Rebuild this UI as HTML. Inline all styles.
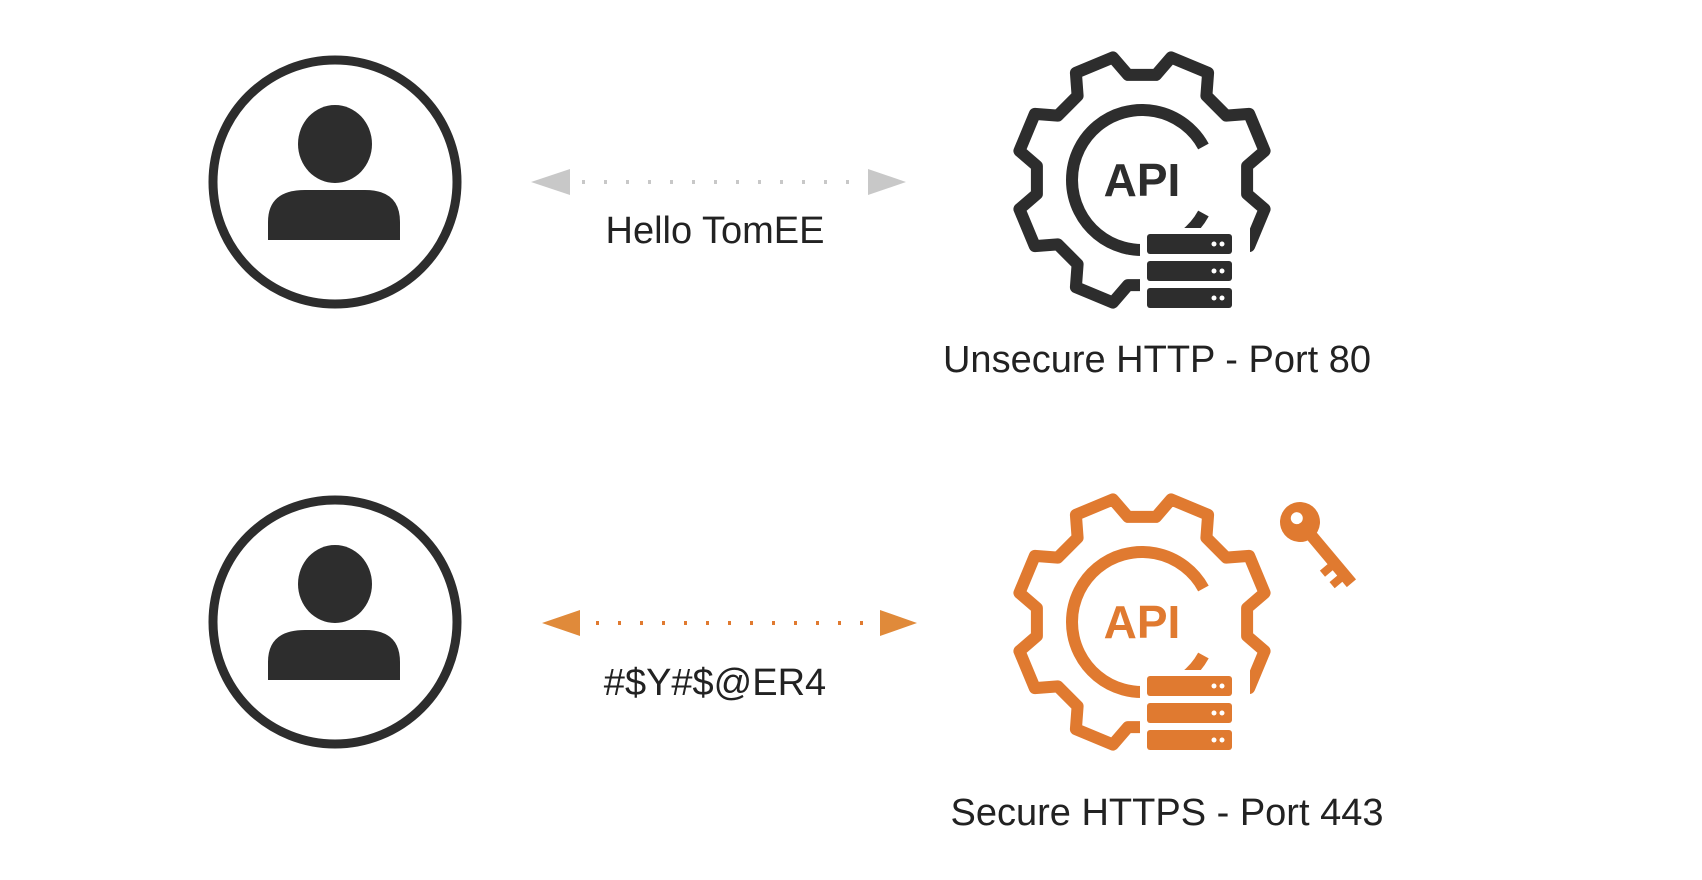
<!DOCTYPE html>
<html><head><meta charset="utf-8"><style>
html,body{margin:0;padding:0;background:#fff;}
body{width:1702px;height:880px;position:relative;overflow:hidden;font-family:"Liberation Sans",sans-serif;}
.t{position:absolute;font-size:38px;color:#222;white-space:nowrap;transform:translateX(-50%);}
</style></head><body>
<svg id="s" width="1702" height="880" style="position:absolute;left:0;top:0">
<g fill="none" stroke="#2d2d2d" stroke-width="9">
<circle cx="335" cy="182" r="122"/>
<circle cx="335" cy="622" r="122"/>
</g>
<g fill="#2d2d2d">
<ellipse cx="335" cy="144" rx="37" ry="39"/>
<path d="M268,240 L268,222 Q268,190 305,190 L365,190 Q400,190 400,222 L400,240 Z"/>
<ellipse cx="335" cy="584" rx="37" ry="39"/>
<path d="M268,680 L268,662 Q268,630 305,630 L365,630 Q400,630 400,662 L400,680 Z"/>
</g>
<line x1="560" y1="182" x2="878" y2="182" stroke="#c8c8c8" stroke-width="4" stroke-dasharray="3 19"/>
<polygon points="531,182 570,169 570,195" fill="#c8c8c8"/>
<polygon points="906,182 868,169 868,195" fill="#c8c8c8"/>
<line x1="574" y1="623" x2="890" y2="623" stroke="#e07a30" stroke-width="4" stroke-dasharray="3 19"/>
<polygon points="542,623 580,610 580,636" fill="#e08a3a"/>
<polygon points="917,623 880,610 880,636" fill="#e08a3a"/>
<g id="g1"></g><g id="g2"></g>
<g transform="translate(1300,522) rotate(-40)" fill="#e07a30">
<circle cx="0" cy="0" r="20"/>
<rect x="-6" y="10" width="12" height="70"/>
<rect x="-16" y="50" width="12" height="8"/>
<rect x="-16" y="65" width="12" height="8"/>
<circle cx="0" cy="-5" r="6" fill="#fff"/>
</g>
</svg>
<div class="t" style="left:715px;top:210px">Hello TomEE</div>
<div class="t" style="left:1157px;top:339px">Unsecure HTTP - Port 80</div>
<div class="t" style="left:715px;top:662px">#$Y#$@ER4</div>
<div class="t" style="left:1167px;top:792px">Secure HTTPS - Port 443</div>
<script>
function gear(id,cx,cy,col){
  var g=document.getElementById(id),R=126,r=106,n=8,d="";
  for(var i=0;i<n;i++){
    var a=i*2*Math.PI/n-Math.PI/2+Math.PI/8;
    var pts=[[r,a-0.26],[R,a-0.16],[R,a+0.16],[r,a+0.26],[r,a+2*Math.PI/n-0.26]];
    pts.forEach(function(p,j){
      var x=cx+p[0]*Math.cos(p[1]),y=cy+p[0]*Math.sin(p[1]);
      d+=(i==0&&j==0?"M":"L")+x.toFixed(1)+","+y.toFixed(1);
    });
  }
  d+="Z";
  var ns="http://www.w3.org/2000/svg";
  function el(t,at){var e=document.createElementNS(ns,t);for(var k in at)e.setAttribute(k,at[k]);g.appendChild(e);return e;}
  el("path",{d:d,fill:"none",stroke:col,"stroke-width":12,"stroke-linejoin":"round"});
  var ir=70,a1=0.5,a2=0.5+2*Math.PI-1.0;
  var x1=cx+ir*Math.cos(a1),y1=cy+ir*Math.sin(a1),x2=cx+ir*Math.cos(a2),y2=cy+ir*Math.sin(a2);
  el("path",{d:"M"+x2+","+y2+" A"+ir+","+ir+" 0 1 0 "+x1+","+y1,fill:"none",stroke:col,"stroke-width":12});
  el("rect",{x:cx-2,y:cy+48,width:110,height:100,fill:"#fff"});
  for(var k=0;k<3;k++){
    var y=cy+54+k*27;
    el("rect",{x:cx+5,y:y,width:85,height:20,rx:3,fill:col});
    el("circle",{cx:cx+72,cy:y+10,r:2.5,fill:"#fff"});
    el("circle",{cx:cx+80,cy:y+10,r:2.5,fill:"#fff"});
  }
  var t=el("text",{x:cx,y:cy+16,"text-anchor":"middle","font-family":"Liberation Sans, sans-serif","font-weight":"bold","font-size":46,fill:col});
  t.textContent="API";
}
gear("g1",1142,180,"#2d2d2d");
gear("g2",1142,622,"#e07a30");
</script>
</body></html>
